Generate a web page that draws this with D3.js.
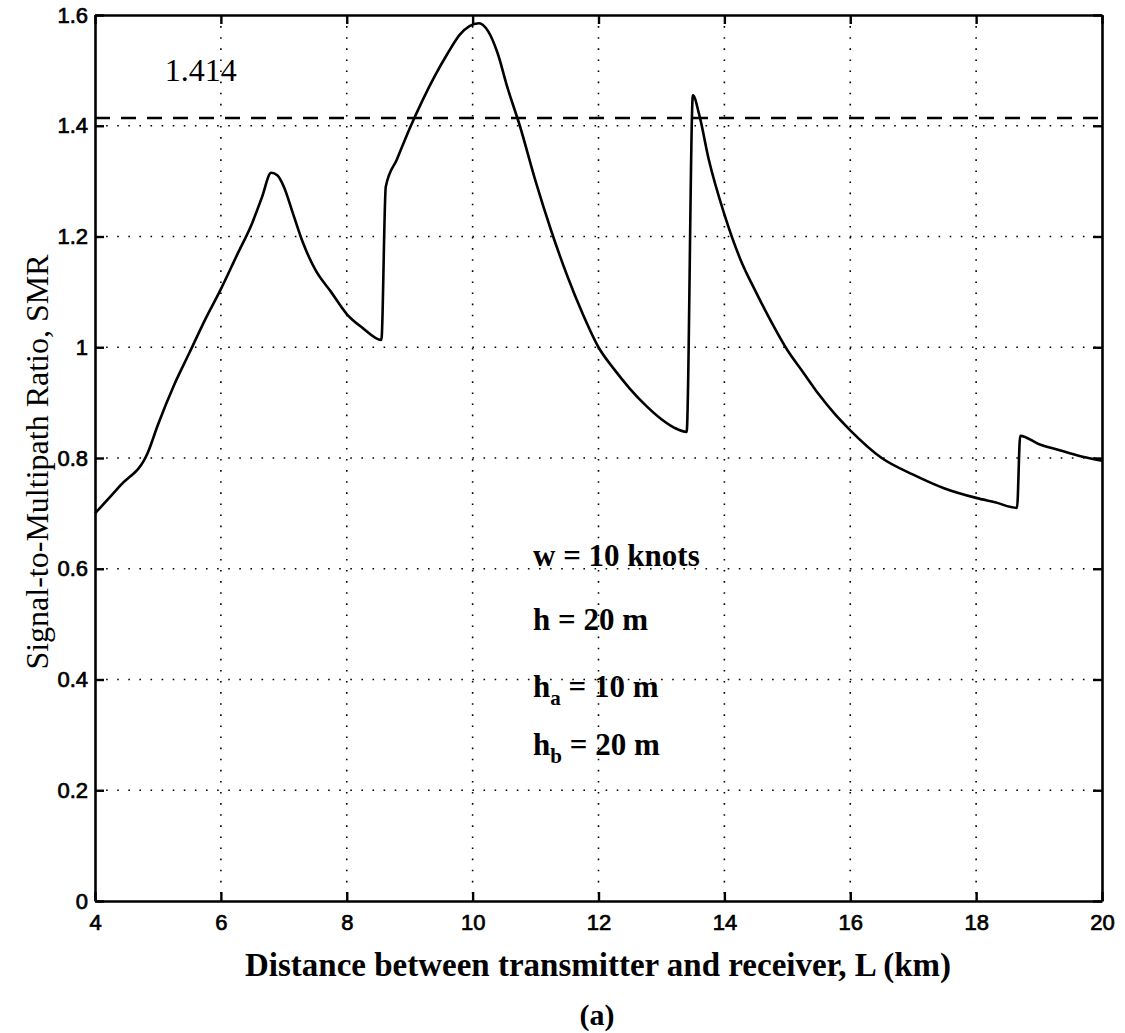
<!DOCTYPE html>
<html><head><meta charset="utf-8">
<script src="https://cdn.jsdelivr.net/npm/d3@7"></script>
<style>body{margin:0;background:#fff}</style>
</head><body>
<script>
const xTicks = [4,6,8,10,12,14,16,18,20];
const yTicks = [0,0.2,0.4,0.6,0.8,1,1.2,1.4,1.6];
const refValue = 1.414;
const smrX = [4.0,4.4,4.84,5.0,5.25,5.5,5.75,6.0,6.25,6.5,6.65,6.8,6.9,7.0,7.15,7.3,7.5,7.75,8.0,8.25,8.55,
  8.62,8.8,9.0,9.2,9.4,9.6,9.8,9.95,10.1,10.25,10.4,10.55,10.75,11.0,11.25,11.5,11.75,12.0,12.25,12.5,12.75,13.0,13.2,13.4,
  13.5,13.6,13.75,14.0,14.25,14.5,14.75,15.0,15.25,15.5,15.75,16.0,16.5,17.0,17.5,18.0,18.3,18.65,
  18.7,19.0,19.3,19.6,20.0];
const smrY = [0.70,0.75,0.81,0.86,0.93,0.99,1.05,1.105,1.165,1.225,1.27,1.315,1.31,1.29,1.24,1.19,1.14,1.10,1.06,1.035,1.013,
  1.29,1.34,1.395,1.445,1.49,1.53,1.565,1.58,1.585,1.57,1.53,1.47,1.40,1.30,1.21,1.13,1.06,1.00,0.96,0.925,0.895,0.87,0.855,0.847,
  1.455,1.42,1.34,1.24,1.16,1.10,1.045,0.995,0.955,0.915,0.88,0.85,0.80,0.77,0.745,0.728,0.72,0.71,
  0.84,0.825,0.815,0.805,0.795];
const annotations = ["w = 10 knots","h = 20 m","h|a| = 10 m","h|b| = 20 m"];

const W=1125,H=1033;
const m={l:95,r:1102,t:15,b:901};
const svg=d3.select("body").append("svg").attr("width",W).attr("height",H);
const x=d3.scaleLinear().domain([4,20]).range([m.l,m.r]);
const y=d3.scaleLinear().domain([0,1.6]).range([m.b,m.t]);

// grid
const g=svg.append("g");
g.selectAll(".vg").data(xTicks.slice(1,-1)).join("line")
 .attr("x1",d=>x(d)).attr("x2",d=>x(d)).attr("y1",m.t).attr("y2",m.b)
 .attr("stroke","#000").attr("stroke-width",1.6).attr("stroke-dasharray","1.6,9.5");
g.selectAll(".hg").data(yTicks.slice(1,-1)).join("line")
 .attr("y1",d=>y(d)).attr("y2",d=>y(d)).attr("x1",m.l).attr("x2",m.r)
 .attr("stroke","#000").attr("stroke-width",1.6).attr("stroke-dasharray","1.6,9.5");

// axes
const fs="'Liberation Sans',Arial,sans-serif";
const ax=svg.append("g").attr("transform",`translate(0,${m.b})`)
 .call(d3.axisBottom(x).tickValues(xTicks).tickSizeInner(-9).tickSizeOuter(0).tickPadding(13).tickFormat(d3.format("d")));
const axT=svg.append("g").attr("transform",`translate(0,${m.t})`)
 .call(d3.axisTop(x).tickValues(xTicks).tickSizeInner(-9).tickSizeOuter(0).tickFormat(""));
const ay=svg.append("g").attr("transform",`translate(${m.l},0)`)
 .call(d3.axisLeft(y).tickValues(yTicks).tickSizeInner(-9).tickSizeOuter(0).tickPadding(7).tickFormat(d=>d3.format("")(+d.toFixed(1))));
const ayR=svg.append("g").attr("transform",`translate(${m.r},0)`)
 .call(d3.axisRight(y).tickValues(yTicks).tickSizeInner(-9).tickSizeOuter(0).tickFormat(""));
[ax,axT,ay,ayR].forEach(a=>{
 a.select(".domain").attr("stroke-width",2.6);
 a.selectAll(".tick line").attr("stroke-width",2.4);
 a.selectAll("text").attr("font-family",fs).attr("font-size",22).attr("fill","#000")
  .attr("stroke","#000").attr("stroke-width",0.7);
});

// reference dashed line
svg.append("line").attr("x1",m.l).attr("x2",m.r).attr("y1",y(refValue)).attr("y2",y(refValue))
 .attr("stroke","#000").attr("stroke-width",2.4).attr("stroke-dasharray","15,11");
const ser="'Liberation Serif','Times New Roman',serif";
svg.append("text").attr("x",x(5.11)).attr("y",y(refValue)-37).text(String(refValue))
 .attr("font-family",ser).attr("font-size",32).attr("fill","#000");

// curve
const pts=smrX.map((d,i)=>[d,smrY[i]]);
svg.append("path").datum(pts).attr("fill","none").attr("stroke","#000").attr("stroke-width",2.6)
 .attr("stroke-linejoin","round")
 .attr("d",d3.line().x(d=>x(d[0])).y(d=>y(d[1])).curve(d3.curveMonotoneX));

// annotations
const annY=[0.605,0.489,0.368,0.264];
annotations.forEach((t,i)=>{
 const parts=t.split("|");
 const tx=svg.append("text").attr("x",x(10.96)).attr("y",y(annY[i])).attr("font-family",ser)
  .attr("font-size",31).attr("font-weight","bold").attr("fill","#000");
 if(parts.length===1){tx.text(t);} else {
  tx.append("tspan").text(parts[0]);
  tx.append("tspan").attr("dy",8).attr("font-size",21).text(parts[1]);
  tx.append("tspan").attr("dy",-8).text(parts[2]);
 }
});

// axis titles
svg.append("text").attr("x",598).attr("y",976).attr("text-anchor","middle")
 .attr("font-family",ser).attr("font-size",33).attr("font-weight","bold").text("Distance between transmitter and receiver, L (km)");
svg.append("text").attr("transform",`translate(48,${462}) rotate(-90)`).attr("text-anchor","middle")
 .attr("font-family",ser).attr("font-size",32).text("Signal-to-Multipath Ratio, SMR");
svg.append("text").attr("x",597).attr("y",1025).attr("text-anchor","middle")
 .attr("font-family",ser).attr("font-size",30).attr("font-weight","bold").text("(a)");
</script>
</body></html>
